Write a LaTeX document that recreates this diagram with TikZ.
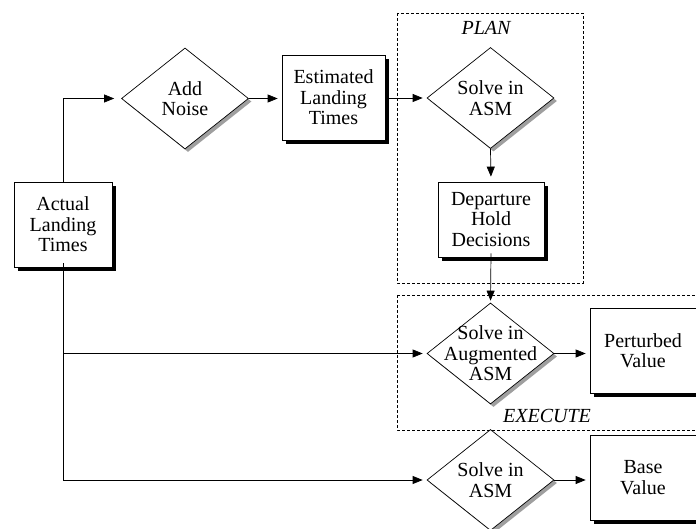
\documentclass[tikz,border=0pt]{standalone}
\usepackage{fontspec}
\setmainfont{Liberation Serif}
\usetikzlibrary{shapes.geometric,arrows.meta,shadows}
\tikzset{
  txt/.style={align=center, font=\fontsize{20}{20.5}\selectfont, inner sep=0pt},
  boxnode/.style={draw, line width=0.7pt, fill=white, rectangle, inner sep=0pt,
    drop shadow={shadow xshift=4pt, shadow yshift=-4pt, fill=black, opacity=1}},
  dianode/.style={draw, line width=0.7pt, fill=white, diamond, inner sep=0pt,
    minimum width=127pt, minimum height=101pt,
    drop shadow={shadow xshift=3pt, shadow yshift=-3pt, fill=gray!75, opacity=1}},
  arr/.style={line width=0.7pt, -{Triangle[length=10pt,width=8pt]}, shorten >=4pt},
  conn/.style={line width=0.7pt},
  group/.style={draw, line width=0.6pt, dash pattern=on 3pt off 2pt},
  grouplabel/.style={font=\fontsize{20}{20}\selectfont\itshape, inner sep=0pt}
}
\begin{document}
\begin{tikzpicture}[x=1pt,y=-1pt]
\useasboundingbox (0,0) rectangle (696,529);
\clip (0,0) rectangle (696,529);

% dashed groups
\draw[group] (397,13) rectangle (583,283);
\node[grouplabel] (planlbl) at (486,28) {PLAN};
\draw[group] (397,295) -- (720,295);
\draw[group] (397,295) -- (397,430) -- (720,430);
\node[grouplabel] (execlbl) at (547,416) {EXECUTE};

% boxes
\node[boxnode, minimum width=98pt, minimum height=85pt] (act) at (63,224.5) {};
\node[txt] at (act) {Actual\\Landing\\Times};
\node[boxnode, minimum width=103pt, minimum height=85pt] (est) at (333.5,97.5) {};
\node[txt] at (est) {Estimated\\Landing\\Times};
\node[boxnode, minimum width=106pt, minimum height=75pt] (dep) at (491,219.5) {};
\node[txt] at (dep) {Departure\\Hold\\Decisions};
\node[boxnode, minimum width=108pt, minimum height=85pt] (pert) at (644,350.5) {};
\node[txt] at ([xshift=-1pt]pert) {Perturbed\\Value};
\node[boxnode, minimum width=108pt, minimum height=85pt] (base) at (644,477.5) {};
\node[txt] at ([xshift=-1pt]base) {Base\\Value};

% decisions
\node[dianode] (noise) at (185,98.5) {};
\node[txt] at (noise) {Add\\Noise};
\node[dianode] (plan) at (490.5,98) {};
\node[txt] at (plan) {Solve in\\ASM};
\node[dianode] (aug) at (490.5,353.5) {};
\node[txt] at (aug) {Solve in\\Augmented\\ASM};
\node[dianode] (solve) at (490.5,480) {};
\node[txt] at (solve) {Solve in\\ASM};

% connectors
\coordinate (split) at (act.south |- aug.west);
\draw[arr, shorten >=7pt] (act.north) |- (noise.west);
\draw[arr] (noise.east) -- (noise.east -| est.west);
\draw[arr] ([xshift=4pt]est.east |- plan.west) -- (plan.west);
\draw[arr, shorten >=5pt] (plan.south) -- (dep.north);
\draw[arr, shorten >=2pt] ([yshift=4pt]dep.south) -- (aug.north);
\draw[conn] ([yshift=4pt]act.south) -- (split);
\draw[arr] (split) -- (aug.west);
\draw[arr] (split) |- (solve.west);
\draw[arr] (aug.east) -- (aug.east -| pert.west);
\draw[arr] (solve.east) -- (solve.east -| base.west);
\end{tikzpicture}
\end{document}
